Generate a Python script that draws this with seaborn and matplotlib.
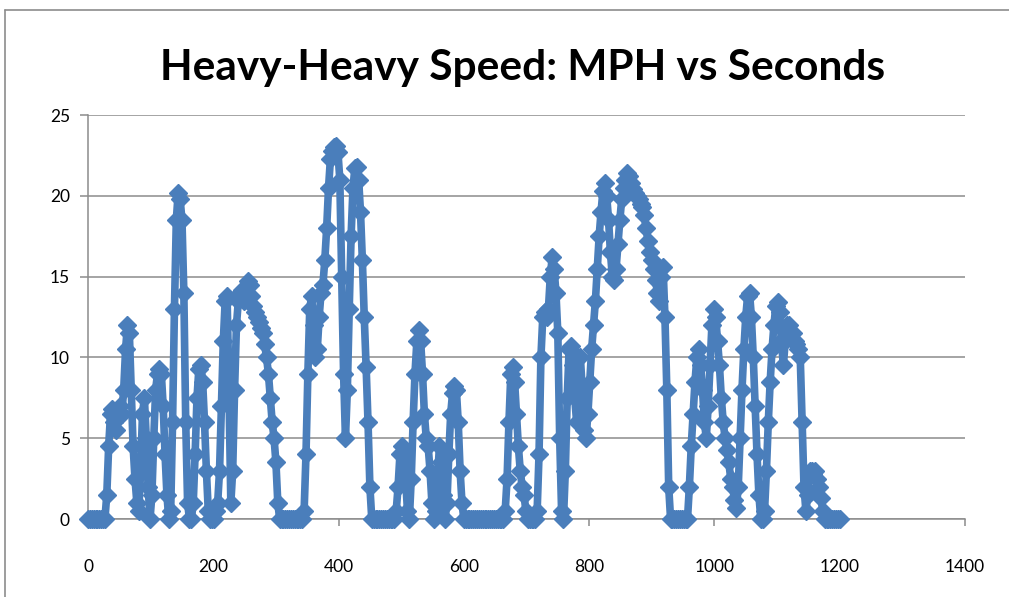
import numpy as np
import pandas as pd
import matplotlib
matplotlib.use("Agg")
import matplotlib.pyplot as plt
import seaborn as sns
from matplotlib.lines import Line2D

speed_0_147 = [0, 0, 0, 0, 0, 0, 0, 0, 0, 0,
               1.5, 4.5, 6.5, 6.8, 6, 5.5, 6.5, 7, 6.5, 8,
               10.5, 12, 11.5, 8, 4.5, 2.5, 1, 0.5, 3, 6.5,
               7.5, 5, 2, 0, 1.5, 5, 8, 9, 9.3, 9,
               7, 4, 1.5, 0, 0.5, 6, 13, 18.5, 20.2, 19.8]
speed_150_297 = [18.5, 14, 6, 1, 0, 0, 1, 4, 7.5, 9.3,
                 9.5, 8.5, 6, 3, 0.5, 0, 0, 0, 0.5, 1,
                 3, 7, 11, 13.5, 13.8, 8, 1, 3, 8, 12,
                 13.5, 14, 14.2, 13.5, 14.3, 14.7, 14.5, 13.8, 13.2, 12.8,
                 12.5, 12.2, 11.8, 11.5, 10.8, 10, 9, 7.5, 6, 5]
speed_300_447 = [3.5, 1, 0, 0, 0, 0, 0, 0, 0, 0,
                 0, 0, 0, 0, 0, 0.5, 4, 9, 13, 13.8,
                 12, 10, 10.5, 12.5, 14, 14.5, 16, 18, 20.5, 22.3,
                 22.8, 23, 23.1, 22.7, 21, 15, 9, 5, 8, 13,
                 17.5, 20.5, 21.7, 21.8, 21, 19, 16, 12.5, 9.4, 6]
speed_450_597 = [2, 0, 0, 0, 0, 0, 0, 0, 0, 0,
                 0, 0, 0, 0, 0.5, 2, 4, 4.5, 4, 2.5,
                 0.5, 0, 2.5, 6, 9, 11, 11.7, 11, 9, 6.5,
                 5, 4.5, 3, 1, 0, 0.5, 2.5, 4.5, 3.5, 1.5,
                 0, 1, 4, 6.5, 7.8, 8.2, 8, 6, 3, 1]
speed_600_747 = [0, 0, 0, 0, 0, 0, 0, 0, 0, 0,
                 0, 0, 0, 0, 0, 0, 0, 0, 0, 0,
                 0, 0, 0.5, 2.5, 6, 9, 9.4, 8.5, 6.5, 4.5,
                 3, 2, 1.5, 0.5, 0, 0, 0, 0, 0, 0.5,
                 4, 10, 12.5, 12.8, 12.5, 13, 15, 16.2, 15.5, 14]
speed_750_897 = [11.5, 5, 0.5, 0, 3, 7.5, 10.5, 10.7, 9.5, 7.5,
                 6, 8, 10, 8, 5.5, 5, 6.5, 8.5, 10.5, 12,
                 13.5, 15.5, 17.5, 19, 20.3, 20.8, 20, 18.5, 16.5, 15,
                 14.8, 15.5, 17, 18.5, 19.8, 20.5, 21, 21.4, 21.2, 20.8,
                 20.4, 20.2, 20, 19.8, 19.5, 19.3, 18.8, 18, 17.2, 16.5]
speed_900_1047 = [16, 15.5, 14.8, 14, 13.5, 15, 15.6, 12.5, 8, 2,
                  0, 0, 0, 0, 0, 0, 0, 0, 0, 0,
                  2, 4.5, 6.5, 8.5, 10, 10.5, 9.5, 8, 6, 5,
                  7, 9.5, 12, 13, 12.5, 11, 9.5, 7.5, 6, 5,
                  4.3, 3.5, 2.5, 2, 1.2, 0.7, 2, 5, 8, 10.5]
speed_1050_1200 = [12.5, 13.8, 14, 12.5, 10, 7, 4, 1.5, 0, 0,
                   0.5, 3, 6, 8.5, 10.5, 12, 13.2, 13.4, 12.8, 11,
                   9.5, 11, 12, 12, 11.5, 11.5, 11, 10.8, 10.5, 10,
                   6, 2, 0.5, 1.5, 3, 3, 2.8, 3, 2.5, 2,
                   1.3, 0.5, 0, 0, 0, 0, 0, 0, 0, 0,
                   0]
sample_step = 3

title_text = "Heavy-Heavy Speed: MPH vs Seconds"
x_ticks = [0, 200, 400, 600, 800, 1000, 1200, 1400]
y_ticks = [0, 5, 10, 15, 20, 25]

speed = (speed_0_147 + speed_150_297 + speed_300_447 + speed_450_597 +
         speed_600_747 + speed_750_897 + speed_900_1047 + speed_1050_1200)
seconds = np.arange(len(speed)) * sample_step
df = pd.DataFrame({"Seconds": seconds, "MPH": speed})

# ---- style ----
sns.set_theme(style="white")
plt.rcParams["font.family"] = ["Lato", "DejaVu Sans"]

blue = "#4A7EBB"
grey = "#8C8C8C"

fig = plt.figure(figsize=(10.09, 5.97), dpi=100)
ax = fig.add_axes([88 / 1009, 1 - 519 / 597, (965 - 88) / 1009, (519 - 115) / 597])

sns.lineplot(data=df, x="Seconds", y="MPH", ax=ax, color=blue, linewidth=5.5,
             estimator=None, sort=False, solid_joinstyle="round",
             solid_capstyle="round")
# diamond markers drawn on the same line (not clipped at the zero axis, as in Excel)
line = ax.get_lines()[0]
line.set_marker("D")
line.set_markersize(9.0)
line.set_markerfacecolor(blue)
line.set_markeredgecolor(blue)
line.set_markeredgewidth(1.0)
line.set_clip_on(False)
line.set_zorder(3)

ax.set_xlim(0, 1400)
ax.set_ylim(0, 25)
ax.set_xticks(x_ticks)
ax.set_yticks(y_ticks)
ax.set_xticklabels([str(v) for v in x_ticks])
ax.set_yticklabels([str(v) for v in y_ticks])
ax.set_xlabel("")
ax.set_ylabel("")

ax.yaxis.grid(True, color=grey, linewidth=1.1)
ax.xaxis.grid(False)
ax.set_axisbelow(True)
for side in ["top", "right"]:
    ax.spines[side].set_visible(False)
for side in ["left", "bottom"]:
    ax.spines[side].set_color(grey)
    ax.spines[side].set_linewidth(1.1)
    ax.spines[side].set_zorder(0.5)

ax.tick_params(axis="x", direction="out", length=5, width=1.1, color=grey,
               pad=24, labelsize=12.5, labelcolor="black", bottom=True)
ax.tick_params(axis="y", direction="out", length=6, width=1.1, color=grey,
               pad=7, labelsize=12.5, labelcolor="black", left=True)

fig.text(523 / 1009, 1 - 68 / 597, title_text, ha="center", va="center",
         fontsize=30.5, fontweight="bold", color="black")

# chart-area border (top and left edges visible in the reference)
fig.add_artist(Line2D([5 / 1009, 5 / 1009], [0, 1 - 10 / 597], transform=fig.transFigure,
                      color=grey, linewidth=1.2))
fig.add_artist(Line2D([5 / 1009, 1], [1 - 10 / 597, 1 - 10 / 597], transform=fig.transFigure,
                      color=grey, linewidth=1.2))

fig.savefig("out.png", dpi=100)
